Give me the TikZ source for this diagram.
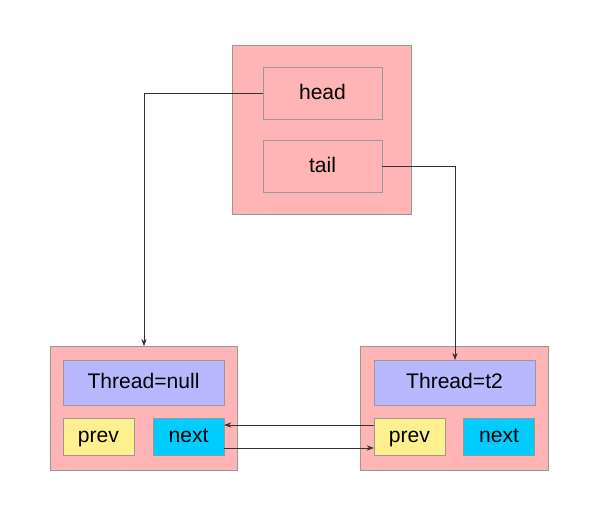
\documentclass[tikz,border=0pt]{standalone}
\usepackage{fontspec}
\setmainfont{Liberation Sans}
\usepackage{tikz}
\usetikzlibrary{positioning,calc,arrows.meta}

\definecolor{boxpink}{HTML}{FFB5B5}
\definecolor{threadblue}{HTML}{B8B8FF}
\definecolor{prevyellow}{HTML}{FFF08F}
\definecolor{nextcyan}{HTML}{00CCFF}
\definecolor{edgegray}{HTML}{999999}

\begin{document}
\begin{tikzpicture}[
    x=0.03cm, y=-0.03cm,
    font=\fontsize{18}{20}\selectfont,
    every node/.style={text height=10.5pt, text depth=0pt},
    container/.style={rectangle, draw=edgegray, fill=boxpink, inner sep=0pt},
    field/.style={rectangle, draw=edgegray, fill=boxpink, minimum width=119*0.03cm, minimum height=52*0.03cm, inner sep=0pt},
    thread/.style={rectangle, draw=edgegray, fill=threadblue, minimum width=161*0.03cm, minimum height=45*0.03cm, inner sep=0pt},
    prevbox/.style={rectangle, draw=edgegray, fill=prevyellow, minimum width=71*0.03cm, minimum height=37*0.03cm, inner sep=0pt},
    nextbox/.style={rectangle, draw=edgegray, fill=nextcyan, minimum width=71*0.03cm, minimum height=37*0.03cm, inner sep=0pt},
    arrow/.style={-{Stealth[length=6pt,width=4.5pt]}, black!80, line width=0.6pt}
]
    \useasboundingbox (0,0) rectangle (602,522);

    % Queue with head and tail
    \node[container, minimum width=179*0.03cm, minimum height=169*0.03cm] (queue) at (321.5,129.5) {};
    \node[field] (head) at (322.5,93) {head};
    \node[field] (tail) at (322.5,166.5) {tail};

    % First node
    \node[container, minimum width=187*0.03cm, minimum height=124*0.03cm] (first) at (143.5,408) {};
    \node[thread] (fthread) at (143.5,382.5) {Thread=null};
    \node[prevbox] (fprev) at (98.5,436.5) {prev};
    \node[nextbox] (fnext) at (188.5,436.5) {next};

    % Second node
    \node[container, minimum width=188*0.03cm, minimum height=124*0.03cm] (second) at (454,408) {};
    \node[thread] (sthread) at (454.5,382.5) {Thread=t2};
    \node[prevbox] (sprev) at (409.5,436.5) {prev};
    \node[nextbox] (snext) at (499,436.5) {next};

    \coordinate (headin) at (144,346);
    \coordinate (tailin) at (455,360);

    % Arrows
    \draw[arrow] (head.west) -| (headin);
    \draw[arrow] (tail.east) -| (tailin);
    \draw[arrow] ([yshift=0.345cm]sprev.west) -- ([yshift=0.345cm]fnext.east);
    \draw[arrow] ([yshift=-0.345cm]fnext.east) -- ([yshift=-0.345cm]sprev.west);
\end{tikzpicture}
\end{document}
